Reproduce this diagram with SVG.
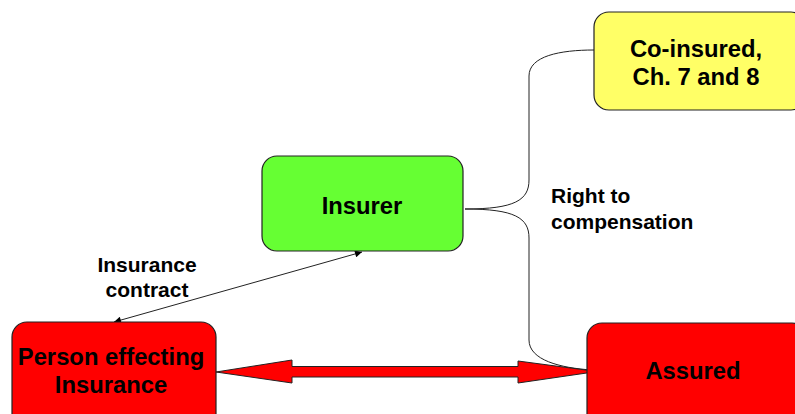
<svg xmlns="http://www.w3.org/2000/svg" width="795" height="414" viewBox="0 0 795 414">
<defs>
<style>
.box{stroke:#222;stroke-width:1.2}
.t{font-family:"Liberation Sans",Arial,sans-serif;font-weight:bold;fill:#000;text-anchor:middle}
.big{font-size:23.8px}
.lbl{font-size:21px}
.start{text-anchor:start}
.line{fill:none;stroke:#222;stroke-width:1}
</style>
<marker id="ah" viewBox="0 0 10 10" refX="10" refY="5" markerWidth="9" markerHeight="7" markerUnits="userSpaceOnUse" orient="auto-start-reverse">
<path d="M0,0 L10,5 L0,10 z" fill="#000"/>
</marker>
</defs>
<rect width="795" height="414" fill="#fff"/>
<g id="connectors">
<path class="line" d="M465,209 C515,209 529,200 529,180 L529,76 C529,56 560,50 594,50"/>
<path class="line" d="M465,209 C515,209 529,218 529,238 L529,340 C529,360 560,368 592,370"/>
<line class="line" x1="362" y1="252" x2="114" y2="322" marker-start="url(#ah)" marker-end="url(#ah)"/>
<path d="M216,372 L292,360 L292,366.5 L518,366.5 L518,361 L597,371.5 L518,383 L518,377 L292,377 L292,383 Z" fill="#FF0000" stroke="#222" stroke-width="1"/>
</g>
<g id="coinsured">
<rect class="box" x="594" y="12" width="212" height="98" rx="15" fill="#FFFF66"/>
<text class="t big" x="696" y="57">Co-insured,</text>
<text class="t big" x="696" y="85">Ch. 7 and 8</text>
</g>
<g id="insurer">
<rect class="box" x="262" y="156" width="201" height="95" rx="15" fill="#66FF33"/>
<text class="t big" x="362" y="214">Insurer</text>
</g>
<g id="person">
<rect class="box" x="12" y="322" width="204" height="110" rx="15" fill="#FF0000"/>
<text class="t big" x="111" y="365">Person effecting</text>
<text class="t big" x="111" y="393">Insurance</text>
</g>
<g id="assured">
<rect class="box" x="587" y="323" width="220" height="110" rx="15" fill="#FF0000"/>
<text class="t big" x="693" y="379">Assured</text>
</g>
<g id="labels">
<text class="t lbl" x="147" y="272">Insurance</text>
<text class="t lbl" x="147" y="297">contract</text>
<text class="t lbl start" x="551" y="203">Right to</text>
<text class="t lbl start" x="551" y="229">compensation</text>
</g>
</svg>
